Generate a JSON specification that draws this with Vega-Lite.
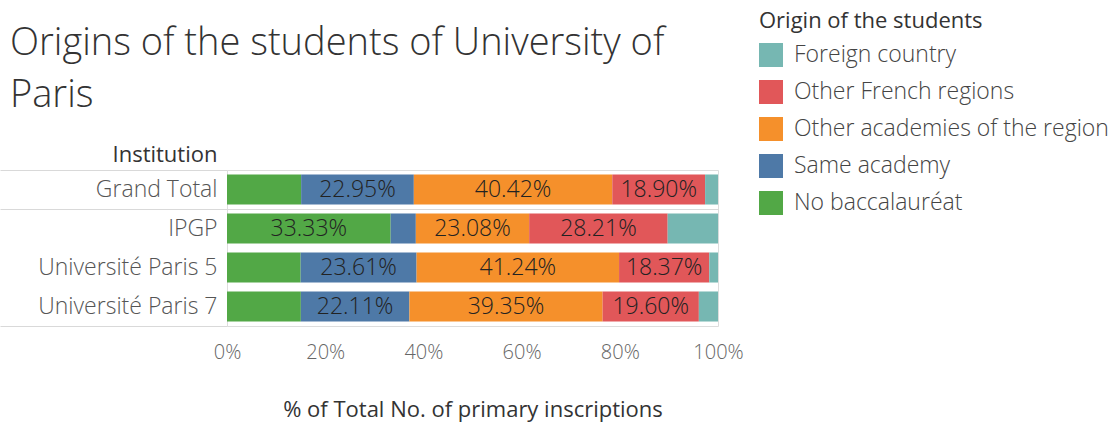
{
  "$schema": "https://vega.github.io/schema/vega-lite/v6.json",
  "width": 491,
  "height": 156,
  "autosize": {"type": "none"},
  "padding": {"left": 227, "top": 170, "right": 399, "bottom": 98},
  "background": "white",
  "title": {
    "text": ["Origins of the students of University of", "Paris"],
    "anchor": "start",
    "frame": "group",
    "dx": -217,
    "dy": 114,
    "font": "Open Sans",
    "fontSize": 38,
    "fontWeight": 300,
    "color": "#333333",
    "lineHeight": 52,
    "offset": 10,
    "limit": 1000
  },
  "data": {
    "values": [
      {"institution": "Grand Total", "origin": "No baccalauréat", "k": 1, "value": 0.1510},
      {"institution": "Grand Total", "origin": "Same academy", "k": 2, "value": 0.2295},
      {"institution": "Grand Total", "origin": "Other academies of the region", "k": 3, "value": 0.4042},
      {"institution": "Grand Total", "origin": "Other French regions", "k": 4, "value": 0.1890},
      {"institution": "Grand Total", "origin": "Foreign country", "k": 5, "value": 0.0263},
      {"institution": "IPGP", "origin": "No baccalauréat", "k": 1, "value": 0.3333},
      {"institution": "IPGP", "origin": "Same academy", "k": 2, "value": 0.0513},
      {"institution": "IPGP", "origin": "Other academies of the region", "k": 3, "value": 0.2308},
      {"institution": "IPGP", "origin": "Other French regions", "k": 4, "value": 0.2821},
      {"institution": "IPGP", "origin": "Foreign country", "k": 5, "value": 0.1026},
      {"institution": "Université Paris 5", "origin": "No baccalauréat", "k": 1, "value": 0.1500},
      {"institution": "Université Paris 5", "origin": "Same academy", "k": 2, "value": 0.2361},
      {"institution": "Université Paris 5", "origin": "Other academies of the region", "k": 3, "value": 0.4124},
      {"institution": "Université Paris 5", "origin": "Other French regions", "k": 4, "value": 0.1837},
      {"institution": "Université Paris 5", "origin": "Foreign country", "k": 5, "value": 0.0178},
      {"institution": "Université Paris 7", "origin": "No baccalauréat", "k": 1, "value": 0.1504},
      {"institution": "Université Paris 7", "origin": "Same academy", "k": 2, "value": 0.2211},
      {"institution": "Université Paris 7", "origin": "Other academies of the region", "k": 3, "value": 0.3935},
      {"institution": "Université Paris 7", "origin": "Other French regions", "k": 4, "value": 0.1960},
      {"institution": "Université Paris 7", "origin": "Foreign country", "k": 5, "value": 0.0390}
    ]
  },
  "transform": [
    {"stack": "value", "groupby": ["institution"], "sort": [{"field": "k", "order": "ascending"}], "as": ["v0", "v1"]},
    {"calculate": "(datum.v0 + datum.v1) / 2", "as": "mid"}
  ],
  "encoding": {
    "y": {
      "field": "institution",
      "type": "nominal",
      "sort": ["Grand Total", "IPGP", "Université Paris 5", "Université Paris 7"],
      "scale": {"paddingInner": 0, "paddingOuter": 0},
      "axis": {
        "title": "Institution",
        "titleAngle": 0,
        "titleAlign": "right",
        "titleBaseline": "alphabetic",
        "titleX": -10,
        "titleY": -9,
        "titleFont": "Open Sans",
        "titleFontSize": 22,
        "titleFontWeight": 500,
        "titleColor": "#333333",
        "labelFont": "Open Sans",
        "labelFontSize": 23,
        "labelFontWeight": 300,
        "labelColor": "#555555",
        "labelPadding": -217,
        "labelLimit": 400,
        "domain": false,
        "ticks": true,
        "tickBand": "extent",
        "tickSize": 227,
        "tickColor": "#d9d9d9",
        "tickOpacity": {"condition": {"test": "datum.extra || datum.value == 'Grand Total' || datum.value == 'Université Paris 7'", "value": 1}, "value": 0},
        "grid": true,
        "gridColor": "#d9d9d9",
        "gridOpacity": {"condition": {"test": "datum.value == 'Grand Total' && !datum.extra", "value": 1}, "value": 0}
      }
    }
  },
  "layer": [
    {
      "mark": {"type": "bar", "height": {"band": 0.77}},
      "encoding": {
        "x": {
          "field": "v0",
          "type": "quantitative",
          "scale": {"domain": [0, 1]},
          "axis": {
            "values": [0, 0.2, 0.4, 0.6, 0.8, 1],
            "format": ".0%",
            "labelFont": "Open Sans",
            "labelFontSize": 20,
            "labelFontWeight": 300,
            "labelColor": "#666666",
            "labelPadding": 16,
            "labelFlush": false,
            "domain": false,
            "ticks": false,
            "grid": false,
            "title": "% of Total No. of primary inscriptions",
            "titleFont": "Open Sans",
            "titleFontSize": 22,
            "titleFontWeight": "normal",
            "titleColor": "#333333",
            "titlePadding": 37
          }
        },
        "x2": {"field": "v1"},
        "color": {
          "field": "origin",
          "type": "nominal",
          "scale": {
            "domain": ["Foreign country", "Other French regions", "Other academies of the region", "Same academy", "No baccalauréat"],
            "range": ["#76b7b2", "#e15759", "#f5902b", "#4e79a7", "#52a846"]
          },
          "legend": {
            "orient": "none",
            "legendX": 532,
            "legendY": -159,
            "title": "Origin of the students",
            "titleFont": "Open Sans",
            "titleFontSize": 22,
            "titleFontWeight": 500,
            "titleColor": "#333333",
            "titlePadding": 10,
            "titleLimit": 400,
            "labelFont": "Open Sans",
            "labelFontSize": 23,
            "labelFontWeight": 300,
            "labelColor": "#444444",
            "labelLimit": 400,
            "symbolType": "square",
            "symbolSize": 576,
            "symbolStrokeWidth": 0,
            "symbolOpacity": 1,
            "rowPadding": 13,
            "labelOffset": 11,
            "padding": 0
          }
        }
      }
    },
    {
      "transform": [{"filter": "datum.value >= 0.18"}],
      "mark": {"type": "text", "font": "Open Sans", "fontSize": 23, "fontWeight": 300, "color": "#222222"},
      "encoding": {
        "x": {"field": "mid", "type": "quantitative"},
        "text": {"field": "value", "type": "quantitative", "format": ".2%"}
      }
    }
  ]
}
